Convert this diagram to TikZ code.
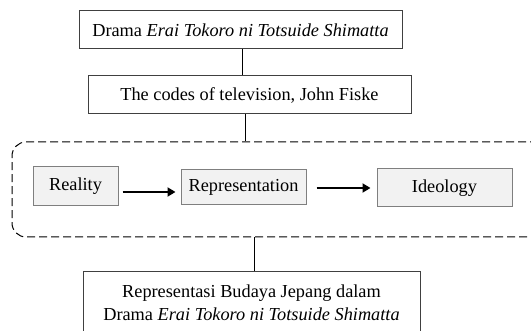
\documentclass[tikz,border=0pt]{standalone}
\usepackage{fontspec}
\setmainfont{Liberation Serif}
\usepackage{xcolor}
\usetikzlibrary{arrows.meta, positioning}
\definecolor{bline}{HTML}{404040}
\definecolor{gline}{HTML}{7F7F7F}
\definecolor{gfill}{HTML}{F2F2F2}

\begin{document}
\begin{tikzpicture}[x=1pt, y=-1pt,
  every node/.style={font=\fontsize{18.3}{23}\selectfont, inner sep=0pt},
  mainbox/.style={draw=bline, line width=1pt, fill=white, align=center},
  stagebox/.style={draw=gline, line width=1pt, fill=gfill},
  link/.style={draw=black, line width=1pt},
  flow/.style={draw=black, line width=1.8pt, -{Triangle[length=8pt, width=9pt]}}]
\useasboundingbox (0,0) rectangle (531,331);
\clip (0,0) rectangle (531,331);
% top of the chain
\node[mainbox, minimum width=323, minimum height=38] (drama) at (240.5,30)
  {Drama \textit{Erai Tokoro ni Totsuide Shimatta}};
\node[mainbox, minimum width=323, minimum height=38] (codes) at (249.5,95)
  {The codes of television, John Fiske};
% dashed frame with the three stages
\node[draw=black, line width=1pt, dash pattern=on 8pt off 4pt, rounded corners=14pt,
  minimum width=540, minimum height=95] (frame) at (282,189.5) {};
\node[stagebox, minimum width=85, minimum height=39] (reality) at (75.5,186.5) {Reality};
\node[stagebox, minimum width=125, minimum height=35] (repr) at (243.5,187.5) {Representation};
\node[stagebox, minimum width=135, minimum height=38] (ideo) at (444.5,188) {Ideology};
\draw[flow] ([xshift=4pt]reality.east |- 0,192) -- ([xshift=-5pt]repr.west |- 0,192);
\draw[flow] ([xshift=10pt]repr.east |- 0,188) -- ([xshift=-6pt]ideo.west |- 0,188);
% bottom result
\node[mainbox, minimum width=337, minimum height=62] (result) at (251.5,303)
  {Representasi Budaya Jepang dalam\\Drama \textit{Erai Tokoro ni Totsuide Shimatta}};
% connectors
\draw[link] (drama.south -| 242,0) -- (codes.north -| 242,0);
\draw[link] (codes.south -| 245.5,0) -- (frame.north -| 245.5,0);
\draw[link] (frame.south -| 254.5,0) -- (result.north -| 254.5,0);
\end{tikzpicture}
\end{document}
